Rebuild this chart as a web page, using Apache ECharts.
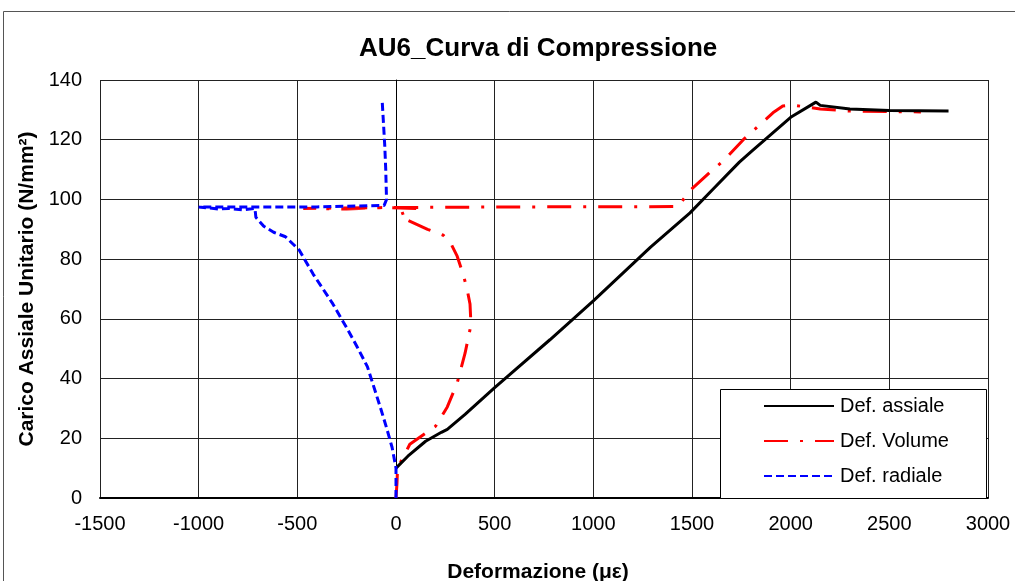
<!DOCTYPE html>
<html>
<head>
<meta charset="utf-8">
<script src="https://cdn.jsdelivr.net/npm/echarts@6/dist/echarts.min.js"></script>
<style>
  html, body { margin: 0; padding: 0; background: #fff; }
  #chart { width: 1015px; height: 581px; }
</style>
</head>
<body>
<div id="chart"></div>
<script>
// valori (x = microdeformazione, y = N/mm2)
const seriesNames = ["Def. assiale", "Def. Volume", "Def. radiale"];

const defAssiale = [
  [0, 10], [60, 14], [150, 19], [230, 22], [260, 23], [350, 28], [500, 37],
  [780, 53], [1000, 66], [1290, 84], [1490, 95.5], [1600, 103], [1740, 112.5],
  [1800, 116], [2000, 127.5], [2128, 132.6], [2150, 131.5], [2300, 130.3],
  [2500, 129.8], [2800, 129.6]
];

const defVolume = [
  [0, 0], [5, 5], [8, 10], [70, 18], [200, 24], [260, 30.5], [310, 38.5],
  [350, 48.5], [380, 58], [375, 65], [360, 70], [340, 75], [310, 81],
  [280, 85], [240, 88], [160, 90], [60, 93], [20, 95], [100, 97],
  [-50, 97.3], [-250, 96.8], [-470, 97], [0, 97.3], [700, 97.5], [1430, 97.6],
  [1490, 103], [1590, 109], [1660, 113], [1760, 120], [1910, 129],
  [1960, 131.3], [2010, 131.6], [2150, 130.3], [2300, 129.6], [2660, 129.3]
];

const defRadiale = [
  [0, 0], [0, 10], [-20, 17], [-50, 24], [-80, 30.5], [-145, 44], [-200, 51],
  [-250, 57], [-320, 65], [-420, 75], [-490, 83], [-560, 87.5], [-620, 89],
  [-670, 91], [-710, 94], [-715, 97], [-780, 96.5], [-850, 97], [-900, 96.8],
  [-1000, 97.5], [-700, 97.5], [-400, 97.5], [-60, 98], [-48, 100],
  [-52, 110], [-57, 118], [-63, 125], [-70, 133]
];

const chart = echarts.init(document.getElementById("chart"));
const font = "'Liberation Sans', Arial, sans-serif";

const option = {
  backgroundColor: "#fff",
  animation: false,
  textStyle: { fontFamily: font },
  title: {
    text: "AU6_Curva di Compressione",
    left: 354,
    top: 31,
    textStyle: { fontSize: 26, fontWeight: "bold", color: "#000", fontFamily: font }
  },
  graphic: [
    {
      type: "rect",
      shape: { x: 3.5, y: 11.5, width: 1030, height: 600 },
      style: { fill: null, stroke: "#555", lineWidth: 1 },
      silent: true,
      z: 0
    },
    {
      type: "rect",
      shape: { x: 720.5, y: 389.5, width: 266, height: 109 },
      style: { fill: "#fff", stroke: "#000", lineWidth: 1 },
      silent: true,
      z: 5
    }
  ],
  legend: {
    data: seriesNames,
    orient: "vertical",
    left: 763,
    top: 396,
    padding: 0,
    itemWidth: 70,
    itemHeight: 12,
    itemGap: 15,
    z: 10,
    itemStyle: { opacity: 0 },
    textStyle: { fontSize: 20, color: "#000", fontFamily: font, padding: [0, 0, 0, 1] }
  },
  grid: { left: 100, right: 27, top: 80, bottom: 83, outerBoundsMode: "none" },
  xAxis: {
    type: "value",
    min: -1500,
    max: 3000,
    interval: 500,
    name: "Deformazione (\u03bc\u03b5)",
    nameLocation: "middle",
    nameGap: 64,
    nameTextStyle: { fontSize: 21, fontWeight: "bold", color: "#000", fontFamily: font, padding: [0, 12, 0, 0] },
    axisLine: { onZero: false, lineStyle: { color: "#000", width: 2 } },
    axisTick: { show: false },
    axisLabel: { fontSize: 20, color: "#000", margin: 16, fontFamily: font, formatter: (v) => String(v) },
    splitLine: { show: true, lineStyle: { color: "#222", width: 1 } }
  },
  yAxis: {
    type: "value",
    min: 0,
    max: 140,
    interval: 20,
    name: "Carico Assiale Unitario (N/mm\u00b2)",
    nameLocation: "middle",
    nameGap: 60,
    nameTextStyle: { fontSize: 21, fontWeight: "bold", color: "#000", fontFamily: font },
    axisLine: { show: true, lineStyle: { color: "#000", width: 1 } },
    axisTick: { show: false },
    axisLabel: { fontSize: 20, color: "#000", margin: 18, fontFamily: font, formatter: (v) => String(v) },
    splitLine: { show: true, lineStyle: { color: "#222", width: 1 } }
  },
  series: [
    {
      name: seriesNames[0],
      type: "line",
      data: defAssiale,
      symbol: "none",
      z: 3,
      lineStyle: { color: "#000", width: 3, type: "solid" },
      itemStyle: { color: "#000" }
    },
    {
      name: seriesNames[1],
      type: "line",
      data: defVolume,
      symbol: "none",
      z: 2,
      lineStyle: { color: "#ff0000", width: 3, type: [24, 12, 3, 12] },
      itemStyle: { color: "#ff0000" }
    },
    {
      name: seriesNames[2],
      type: "line",
      data: defRadiale,
      symbol: "none",
      z: 4,
      lineStyle: { color: "#0000ff", width: 3, type: [8, 4] },
      itemStyle: { color: "#0000ff" }
    }
  ]
};

chart.setOption(option);
</script>
</body>
</html>
